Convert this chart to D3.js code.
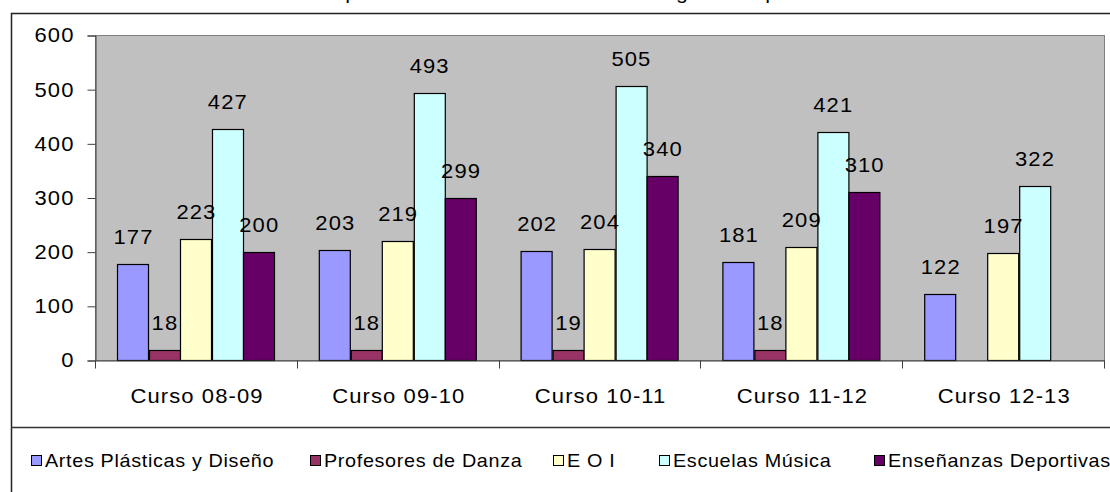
<!DOCTYPE html>
<html>
<head>
<meta charset="utf-8">
<script src="https://cdn.jsdelivr.net/npm/d3@7"></script>
<style>
    body { margin: 0; background: #fff; overflow: hidden; }
    svg { display: block; font-family: "Liberation Sans", Arial, sans-serif; }
</style>
</head>
<body>
<div id="grafico"></div>
<script>
// datos
const titulo = "Evolución del profesorado de Enseñanzas de Régimen Especial";
const cursos = ["Curso 08-09", "Curso 09-10", "Curso 10-11", "Curso 11-12", "Curso 12-13"];
const series = ["Artes Plásticas y Diseño", "Profesores de Danza", "E O I", "Escuelas Música", "Enseñanzas Deportivas"];
const artes = [177, 203, 202, 181, 122];
const danza = [18, 18, 19, 18, null];
const eoi = [223, 219, 204, 209, 197];
const musica = [427, 493, 505, 421, 322];
const deportivas = [200, 299, 340, 310, null];
const ticksY = [0, 100, 200, 300, 400, 500, 600];

// colores de cada serie (los típicos de excel)
const colores = ["#9999FF", "#993366", "#FFFFCC", "#CCFFFF", "#660066"];

// el original está estirado en horizontal, así que estiro los textos igual
function estirar(sel, sx = 1.1) {
    sel.each(function () {
        let t = d3.select(this);
        let x = +t.attr("x") || 0, y = +t.attr("y") || 0;
        t.attr("transform", `translate(${x},${y}) scale(${sx},1) translate(${-x},${-y})`);
    });
}

class BarChart {
    constructor(selector) {
        this.width = 1110;
        this.height = 492;
        // caja del área de trazado
        this.plot = { left: 95, top: 35, right: 1104, bottom: 360 };

        this.svg = d3.select(selector).append("svg")
            .attr("width", this.width)
            .attr("height", this.height);

        // junto las series en algo manejable
        let valores = [artes, danza, eoi, musica, deportivas];
        this.data = series.map((nombre, i) => ({ nombre, valores: valores[i], color: colores[i] }));

        // eje x: cursos, y dentro de cada curso, las series
        this.x0 = d3.scaleBand(cursos, [this.plot.left, this.plot.right]);
        this.x1 = d3.scaleBand(series, [0, this.x0.bandwidth()])
            .paddingOuter(0.71);
        // eje y lógico
        this.y = d3.scaleLinear([0, 600], [this.plot.bottom, this.plot.top]);

        this.update();
    }

    update() {
        let svg = this.svg;
        let p = this.plot;

        // marco exterior (se sale por la derecha y por abajo)
        svg.append("rect")
            .attr("x", 11.5).attr("y", 13.5)
            .attr("width", 1200).attr("height", 600)
            .attr("fill", "#fff")
            .attr("stroke", "#222")
            .attr("stroke-width", 1.5);

        // título, casi todo fuera de la imagen (como en el original)
        svg.append("text")
            .attr("x", 212).attr("y", -1)
            .style("font-size", "18px")
            .text(titulo)
            .call(estirar, 1.19);

        // fondo gris del área de trazado
        svg.append("rect")
            .attr("x", p.left + 0.5).attr("y", p.top + 0.5)
            .attr("width", p.right - p.left).attr("height", p.bottom - p.top)
            .attr("fill", "#C0C0C0")
            .attr("stroke", "#808080");

        // eje y
        let ejeY = svg.append("g")
            .attr("transform", `translate(${p.left + 0.5},0.5)`)
            .call(d3.axisLeft(this.y).tickValues(ticksY).tickSize(8).tickPadding(13));
        ejeY.select(".domain").attr("stroke", "#404040");
        ejeY.selectAll(".tick line").attr("stroke", "#404040");
        ejeY.selectAll("text")
            .attr("fill", "#000")
            .style("font-size", "20px")
            .style("letter-spacing", "1px")
            .style("font-family", "'Liberation Sans', Arial, sans-serif")
            .call(estirar);

        // barras, grupo por curso
        let grupos = svg.append("g").selectAll("g")
            .data(cursos)
            .enter().append("g")
            .attr("transform", d => `translate(${this.x0(d)},0)`);

        let that = this;
        grupos.each(function (curso, j) {
            let g = d3.select(this);
            let filas = that.data
                .map(s => ({ serie: s.nombre, color: s.color, v: s.valores[j] }))
                .filter(d => d.v != null);
            g.selectAll("rect")
                .data(filas)
                .enter().append("rect")
                .attr("x", d => Math.round(that.x1(d.serie)) + 0.5)
                .attr("y", d => Math.round(that.y(d.v)) + 0.5)
                .attr("width", Math.round(that.x1.bandwidth()))
                .attr("height", d => Math.round(that.y(0)) - Math.round(that.y(d.v)))
                .attr("fill", d => d.color)
                .attr("stroke", "#000")
                .attr("stroke-width", 1.2);
            g.selectAll("text")
                .data(filas)
                .enter().append("text")
                .attr("x", d => that.x1(d.serie) + that.x1.bandwidth() / 2 + 0.5)
                .attr("y", d => that.y(d.v) - 20)
                .attr("text-anchor", "middle")
                .style("font-size", "20px")
                .style("letter-spacing", "1px")
                .text(d => d.v)
                .call(estirar);
        });

        // eje x: línea, marcas entre categorías y etiquetas
        let ejeX = svg.append("g")
            .attr("transform", `translate(0,${p.bottom + 0.5})`)
            .call(d3.axisBottom(this.x0).tickSize(0).tickPadding(28));
        ejeX.select(".domain").attr("stroke", "#404040");
        ejeX.selectAll("text")
            .attr("fill", "#000")
            .attr("dx", 1)
            .style("font-size", "20px")
            .style("letter-spacing", "1px")
            .style("font-family", "'Liberation Sans', Arial, sans-serif")
            .call(estirar);
        let bordes = cursos.map(c => this.x0(c)).concat([p.right]);
        ejeX.selectAll("line.borde")
            .data(bordes)
            .enter().append("line")
            .classed("borde", true)
            .attr("x1", d => Math.round(d) + 0.5).attr("x2", d => Math.round(d) + 0.5)
            .attr("y1", 0).attr("y2", 8)
            .attr("stroke", "#404040");

        // separador de la leyenda
        svg.append("line")
            .attr("x1", 11).attr("x2", this.width)
            .attr("y1", 427.5).attr("y2", 427.5)
            .attr("stroke", "#333")
            .attr("stroke-width", 1.5);

        // leyenda, en una sola fila
        let posLeyenda = [31, 310, 553, 659, 874];
        let items = svg.append("g").selectAll("g")
            .data(this.data)
            .enter().append("g")
            .attr("transform", (d, i) => `translate(${posLeyenda[i]},455)`);
        items.append("rect")
            .attr("x", 0.5).attr("y", 0.5)
            .attr("width", 10).attr("height", 10)
            .attr("fill", d => d.color)
            .attr("stroke", "#000");
        items.append("text")
            .attr("x", 14).attr("y", 12)
            .style("font-size", "18px")
            .style("letter-spacing", "0.6px")
            .text(d => d.nombre)
            .call(estirar, 1.1);
    }
}

new BarChart("#grafico");
</script>
</body>
</html>
